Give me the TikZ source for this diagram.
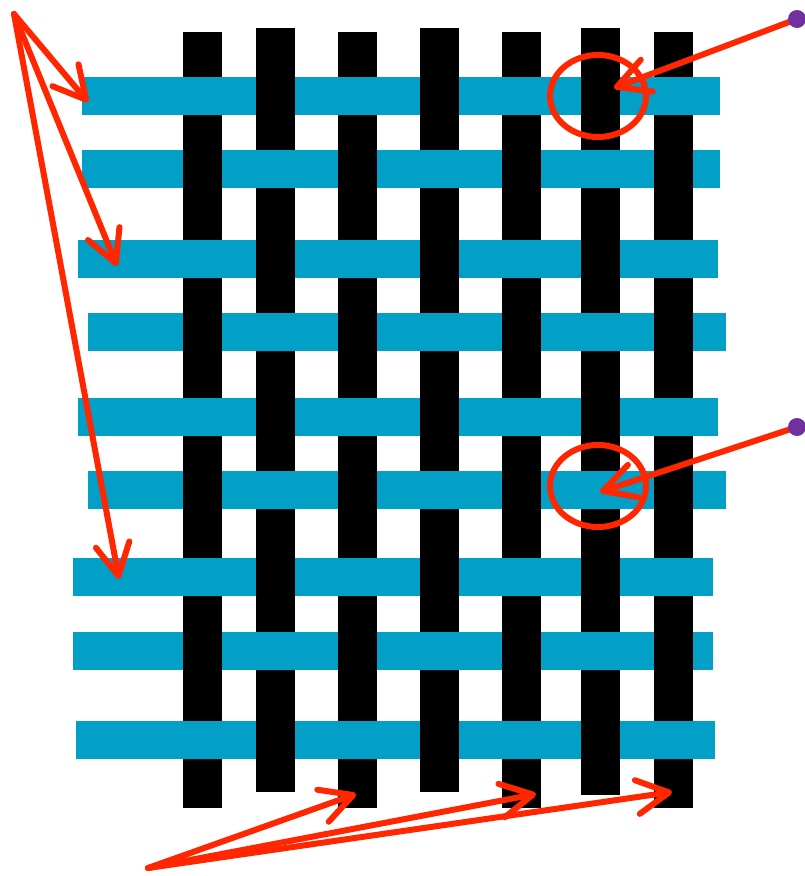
\documentclass[tikz,border=0pt]{standalone}
\usetikzlibrary{arrows.meta}

\definecolor{weft}{HTML}{02A0C6}
\definecolor{markred}{HTML}{FF2600}
\definecolor{dotpurple}{HTML}{7030A0}

\begin{document}
\begin{tikzpicture}[x=1pt, y=-1pt,
    >={Straight Barb[length=32pt, width=34pt, line cap=round, line join=round]},
    pointer/.style={->, markred, line width=6pt, line cap=round},
    ring/.style={markred, line width=6pt}]
  \useasboundingbox (0,0) rectangle (805,876);

  % weft rows
  \foreach \yt/\xl/\xr in {77/82/720, 150/82/720, 240/78/718, 313/88/726, 398/78/718,
                           471/88/726, 558/73/713, 632/73/713, 721/76/715}
    \fill[weft] (\xl,\yt) rectangle (\xr,\yt+38);

  % warp bars
  \foreach \cx/\yt/\yb in {183/32/808, 256/28/792, 338/32/808, 420/28/792,
                           502/32/808, 581/28/795, 654/32/808}
    \fill[black] (\cx,\yt) rectangle (\cx+39,\yb);

  % weft over warp
  \foreach \yt in {77,240,398,558,721}
    \fill[weft] (183,\yt) rectangle ++(39,38) (338,\yt) rectangle ++(39,38)
                (502,\yt) rectangle ++(39,38) (654,\yt) rectangle ++(39,38);
  \foreach \yt in {150,313,471,632}
    \fill[weft] (256,\yt) rectangle ++(39,38) (420,\yt) rectangle ++(39,38)
                (581,\yt) rectangle ++(39,38);

  \coordinate (apex) at (14,14);
  \coordinate (rowa) at (88,102);
  \coordinate (rowb) at (117,266);
  \coordinate (rowc) at (119,579);
  \draw[pointer] (apex) -- (rowa);
  \draw[pointer] (apex) -- (rowb);
  \draw[pointer] (apex) -- (rowc);

  \coordinate (base) at (148,868);
  \coordinate (cola) at (356,794);
  \coordinate (colb) at (536,794);
  \coordinate (colc) at (672,792);
  \draw[pointer] (base) -- (cola);
  \draw[pointer] (base) -- (colb);
  \draw[pointer] (base) -- (colc);

  \draw[ring] (598,96) ellipse [x radius=48pt, y radius=41pt];
  \draw[ring] (598,486) ellipse [x radius=48pt, y radius=41pt];

  \coordinate (topdot) at (797,19);
  \coordinate (middot) at (797,427);
  \coordinate (overtip) at (614,88);
  \coordinate (undertip) at (600,492);
  \draw[pointer] (topdot) -- (overtip);
  \draw[pointer] (middot) -- (undertip);
  \fill[dotpurple] (topdot) circle (9pt);
  \fill[dotpurple] (middot) circle (9pt);
\end{tikzpicture}
\end{document}
